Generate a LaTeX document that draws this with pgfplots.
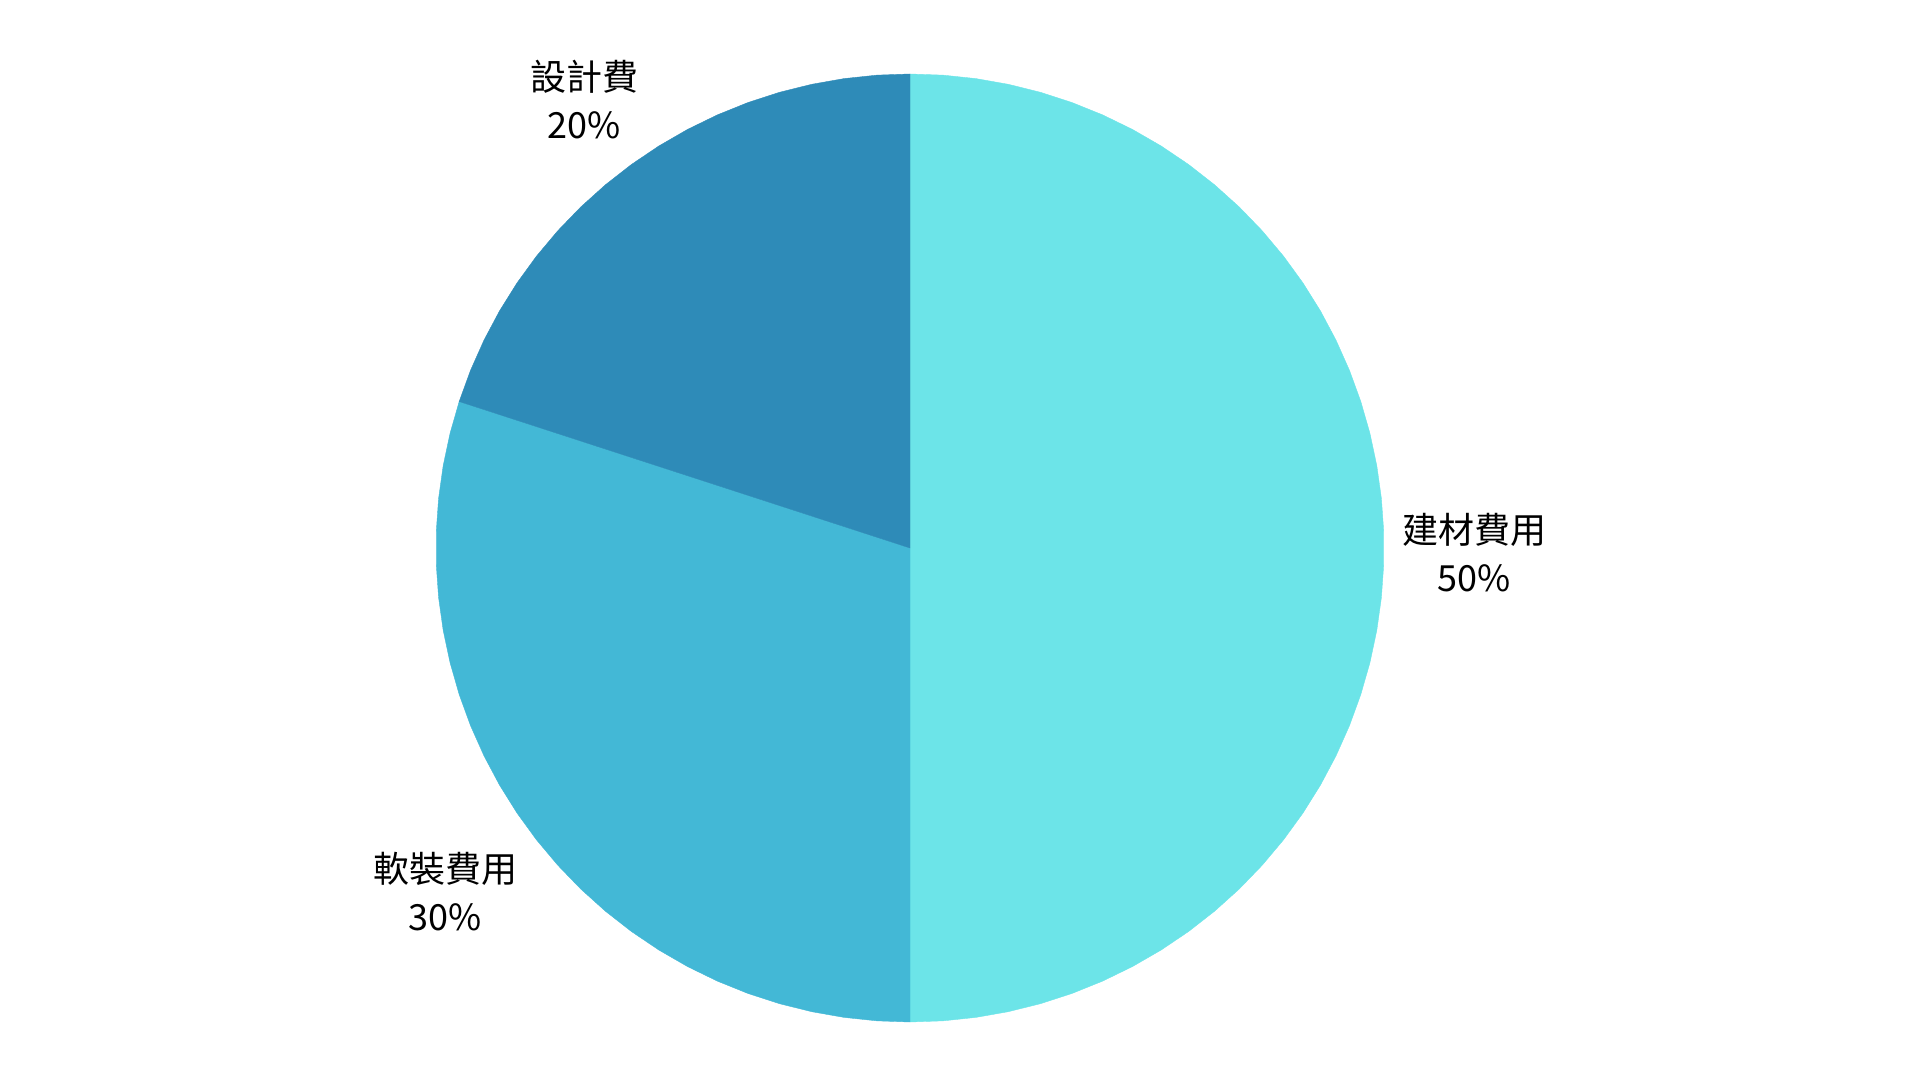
\documentclass[border=0pt]{standalone}
\usepackage{pgfplots}
\pgfplotsset{compat=1.18}
\usepgfplotslibrary{polar}
\usetikzlibrary{calc}
\usepackage{fontspec}
\setmainfont{Noto Sans CJK TC}

\definecolor{cBuild}{HTML}{6CE4E8}
\definecolor{cSoft}{HTML}{43B8D6}
\definecolor{cDesign}{HTML}{2E8BB8}

\begin{document}
\begin{tikzpicture}[lbl/.style={align=center, font=\fontsize{18}{24}\selectfont, text=black}]
% shares: 建材費用 50, 軟裝費用 30, 設計費 20 (clockwise from 12 o'clock)
\begin{polaraxis}[
    name=pie,
    hide axis,
    scale only axis,
    width=474pt, height=474pt,
    xmin=0, xmax=360, ymin=0, ymax=1,
    clip=false,
]
% 建材費用 50%
\addplot[fill=cBuild, draw=cBuild, line width=0.2pt, mark=none] coordinates {
 (0,0) (90,1) (86,1) (82,1) (78,1) (74,1) (70,1) (66,1) (62,1) (58,1) (54,1)
 (50,1) (46,1) (42,1) (38,1) (34,1) (30,1) (26,1) (22,1) (18,1) (14,1)
 (10,1) (6,1) (2,1) (-2,1) (-6,1) (-10,1) (-14,1) (-18,1) (-22,1) (-26,1)
 (-30,1) (-34,1) (-38,1) (-42,1) (-46,1) (-50,1) (-54,1) (-58,1) (-62,1)
 (-66,1) (-70,1) (-74,1) (-78,1) (-82,1) (-86,1) (-90,1) (0,0)
};
% 軟裝費用 30%
\addplot[fill=cSoft, draw=cSoft, line width=0.2pt, mark=none] coordinates {
 (0,0) (270,1) (266,1) (262,1) (258,1) (254,1) (250,1) (246,1) (242,1)
 (238,1) (234,1) (230,1) (226,1) (222,1) (218,1) (214,1) (210,1) (206,1)
 (202,1) (198,1) (194,1) (190,1) (186,1) (182,1) (178,1) (174,1) (170,1)
 (166,1) (162,1) (0,0)
};
% 設計費 20%
\addplot[fill=cDesign, draw=cDesign, line width=0.2pt, mark=none] coordinates {
 (0,0) (162,1) (158,1) (154,1) (150,1) (146,1) (142,1) (138,1) (134,1)
 (130,1) (126,1) (122,1) (118,1) (114,1) (110,1) (106,1) (102,1) (98,1)
 (94,1) (90,1) (0,0)
};
\node[lbl] at (axis cs:-0.5,1.19) {建材費用\\50\%};
\node[lbl] at (axis cs:216.5,1.22) {軟裝費用\\30\%};
\node[lbl] at (axis cs:126,1.17) {設計費\\20\%};
\end{polaraxis}
\path[use as bounding box] ($(pie.center)+(-455pt,-266pt)$) rectangle ($(pie.center)+(505pt,274pt)$);
\end{tikzpicture}
\end{document}
